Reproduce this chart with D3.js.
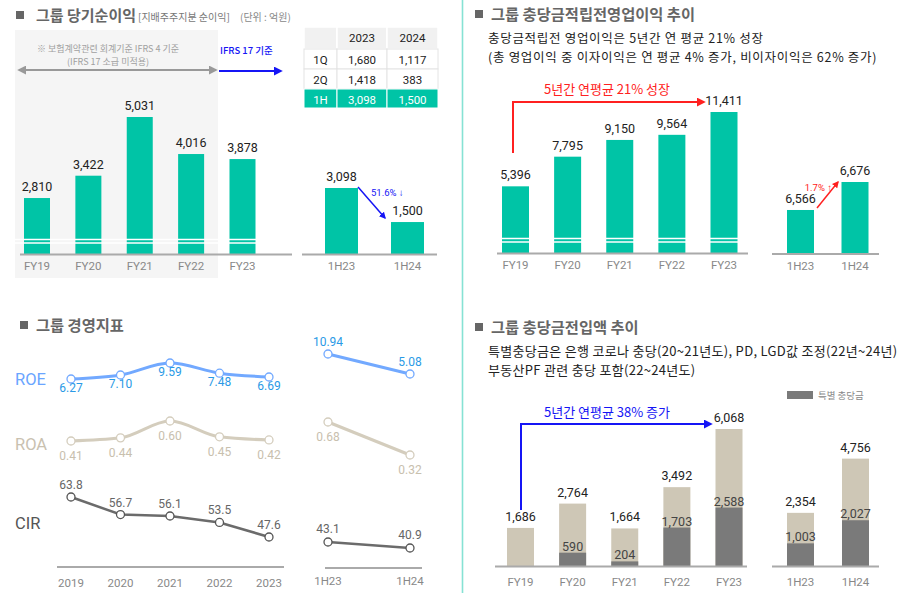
<!DOCTYPE html>
<html>
<head>
<meta charset="utf-8">
<script src="https://cdn.jsdelivr.net/npm/d3@7"></script>
<style>
  body { margin: 0; background: #fff; }
  svg { display: block; }
</style>
</head>
<body>
<svg id="chart" width="900" height="593"></svg>
<script>
'use strict';

// ---- data ----
var fyLabels = ['FY19', 'FY20', 'FY21', 'FY22', 'FY23'];
var halfLabels = ['1H23', '1H24'];
var kpiYears = ['2019', '2020', '2021', '2022', '2023'];

var netIncome = [2810, 3422, 5031, 4016, 3878];
var netIncomeHalf = [3098, 1500];

var tableCols = ['2023', '2024'];
var tableRows = ['1Q', '2Q', '1H'];
var tableValues = [[1680, 1117], [1418, 383], [3098, 1500]];

var preProvision = [5396, 7795, 9150, 9564, 11411];
var preProvisionHalf = [6566, 6676];

var roe = [6.27, 7.10, 9.59, 7.48, 6.69];
var roa = [0.41, 0.44, 0.60, 0.45, 0.42];
var cir = [63.8, 56.7, 56.1, 53.5, 47.6];
var roeHalf = [10.94, 5.08];
var roaHalf = [0.68, 0.32];
var cirHalf = [43.1, 40.9];

var provisionTotal = [1686, 2764, 1664, 3492, 6068];
var provisionSpecial = [0, 590, 204, 1703, 2588];
var provisionTotalHalf = [2354, 4756];
var provisionSpecialHalf = [1003, 2027];

// ---- style ----
var KR = "'Noto Sans CJK KR', 'Noto Sans', sans-serif";
var NUM = "Roboto, 'Noto Sans', sans-serif";
var teal = '#00c4a6';
var beige = '#cec7b6';
var darkGray = '#7a7a7a';
var fmt = d3.format(',');

var svg = d3.select('#chart');

// arrow markers
var defs = svg.append('defs');
function marker(id, color, orient) {
    defs.append('marker')
        .attr('id', id)
        .attr('viewBox', '0 0 10 10')
        .attr('refX', 8).attr('refY', 5)
        .attr('markerWidth', 4.5).attr('markerHeight', 4.5)
        .attr('orient', orient)
        .append('path')
        .attr('d', 'M0,0L10,5L0,10z')
        .attr('fill', color);
}
marker('arrGray', '#999', 'auto-start-reverse');
marker('arrBlue', '#1515f5', 'auto');
marker('arrRed', '#ff2020', 'auto');

function text(x, y, str, opts) {
    opts = opts || {};
    return svg.append('text')
        .attr('x', x).attr('y', y)
        .attr('text-anchor', opts.anchor || 'start')
        .attr('font-family', opts.family || KR)
        .attr('font-size', opts.size || 12)
        .attr('font-weight', opts.weight || 400)
        .attr('fill', opts.color || '#333')
        .text(str);
}

function title(x, y, str, size, gap) {
    svg.append('rect').attr('x', x).attr('y', y - 10).attr('width', 8).attr('height', 8).attr('fill', '#666');
    return text(x + gap, y, str, {size: size, weight: 700, color: '#666'});
}

function xScale(domain, c0, c1) {
    return d3.scalePoint().domain(domain).range([c0, c1]);
}

function baseline(x0, x1, y) {
    svg.append('line')
        .attr('x1', x0).attr('x2', x1).attr('y1', y).attr('y2', y)
        .attr('stroke', '#aaa').attr('stroke-width', 2);
}

function xLabels(x, labels, y) {
    svg.append('g').selectAll('text')
        .data(labels).enter()
        .append('text')
        .attr('x', function (d) { return x(d); })
        .attr('y', y)
        .attr('text-anchor', 'middle')
        .attr('font-family', NUM)
        .attr('font-size', 11.5)
        .attr('fill', '#888')
        .text(function (d) { return d; });
}

// simple bars with value labels
function bars(labels, values, x, y, w, color) {
    var data = labels.map(function (l, i) { return {label: l, value: values[i]}; });
    var g = svg.append('g');
    g.selectAll('rect').data(data).enter()
        .append('rect')
        .attr('x', function (d) { return x(d.label) - w / 2; })
        .attr('y', function (d) { return y(d.value); })
        .attr('width', w)
        .attr('height', function (d) { return y.range()[0] - y(d.value); })
        .attr('fill', color);
    g.selectAll('text').data(data).enter()
        .append('text')
        .attr('x', function (d) { return x(d.label); })
        .attr('y', function (d) { return y(d.value) - 7; })
        .attr('text-anchor', 'middle')
        .attr('font-family', NUM)
        .attr('font-size', 12.5)
        .attr('fill', '#222')
        .text(function (d) { return fmt(d.value); });
}

function breakLines(x0, x1, ys) {
    ys.forEach(function (yy) {
        svg.append('line')
            .attr('x1', x0).attr('x2', x1).attr('y1', yy).attr('y2', yy)
            .attr('stroke', '#fff').attr('stroke-width', 1.6);
    });
}

// ================= top-left : net income =================
svg.append('rect').attr('x', 15).attr('y', 30).attr('width', 203).attr('height', 248).attr('fill', '#f5f5f5');

title(16, 21, '그룹 당기순이익', 15, 20);
text(138, 21, '[지배주주지분 순이익]', {size: 10, color: '#777'});
text(240, 21, '(단위 : 억원)', {size: 10, color: '#888'});

text(108, 52, '※ 보험계약관련 회계기준 IFRS 4 기준', {anchor: 'middle', size: 9, color: '#a0a0a0'});
text(108, 65, '(IFRS 17 소급 미적용)', {anchor: 'middle', size: 9, color: '#a0a0a0'});
text(220, 54, 'IFRS 17 기준', {size: 9.5, color: '#1515f5', weight: 500});

svg.append('line').attr('x1', 19).attr('x2', 216).attr('y1', 70).attr('y2', 70)
    .attr('stroke', '#999').attr('stroke-width', 2)
    .attr('marker-start', 'url(#arrGray)').attr('marker-end', 'url(#arrGray)');
svg.append('line').attr('x1', 219).attr('x2', 281).attr('y1', 71).attr('y2', 71)
    .attr('stroke', '#1515f5').attr('stroke-width', 2)
    .attr('marker-end', 'url(#arrBlue)');

var xNet = xScale(fyLabels, 37, 242.5);
// axis is broken near the bottom, so the floor value is not zero
var yNet = d3.scaleLinear().domain([1276, 5031]).range([254, 117]);
bars(fyLabels, netIncome, xNet, yNet, 26, teal);
breakLines(15, 292, [239.5, 243]);
baseline(20, 292, 254.5);
xLabels(xNet, fyLabels, 270);

var xNetH = xScale(halfLabels, 341.5, 407.5);
var yNetH = d3.scaleLinear().domain([0, 3098]).range([254, 188]);
bars(halfLabels, netIncomeHalf, xNetH, yNetH, 33, teal);
baseline(302, 437, 254.5);
xLabels(xNetH, halfLabels, 270);

svg.append('line').attr('x1', 358).attr('y1', 187).attr('x2', 385).attr('y2', 218)
    .attr('stroke', '#1515f5').attr('stroke-width', 1.5).attr('marker-end', 'url(#arrBlue)');
text(371, 196, '51.6% ↓', {size: 9.5, color: '#1515f5', family: NUM});

// table
var colW = [33, 50, 51];
var colX = [304, 337, 387];
var rowY = [27, 49, 69, 89];
var rowH = [22, 20, 20, 19];
var tg = svg.append('g');
// header
[''].concat(tableCols).forEach(function (c, j) {
    tg.append('rect').attr('x', colX[j]).attr('y', rowY[0]).attr('width', colW[j]).attr('height', rowH[0])
        .attr('fill', '#f1f1f1').attr('stroke', '#fff').attr('stroke-width', 1.5);
    tg.append('text').attr('x', colX[j] + colW[j] / 2).attr('y', rowY[0] + 15)
        .attr('text-anchor', 'middle').attr('font-family', NUM).attr('font-size', 11.5).attr('fill', '#222').text(c);
});
tableRows.forEach(function (r, i) {
    var last = i === tableRows.length - 1;
    var cells = [r].concat(tableValues[i].map(fmt));
    cells.forEach(function (c, j) {
        tg.append('rect').attr('x', colX[j]).attr('y', rowY[i + 1]).attr('width', colW[j]).attr('height', rowH[i + 1])
            .attr('fill', last ? teal : '#fff')
            .attr('stroke', last ? '#fff' : '#e4e4e4').attr('stroke-width', 1);
        tg.append('text').attr('x', colX[j] + colW[j] / 2).attr('y', rowY[i + 1] + 14.5)
            .attr('text-anchor', 'middle').attr('font-family', NUM).attr('font-size', 11.5)
            .attr('fill', last ? '#fff' : '#222').text(c);
    });
});

// divider
svg.append('line').attr('x1', 462.5).attr('x2', 462.5).attr('y1', 0).attr('y2', 593)
    .attr('stroke', '#86e2d4').attr('stroke-width', 1.6);

// ================= top-right : pre-provision income =================
title(475, 20, '그룹 충당금적립전영업이익 추이', 15.3, 16);
text(488, 43, '충당금적립전 영업이익은 5년간 연 평균 21% 성장', {size: 12.5, color: '#222'})
    .attr('letter-spacing', 0.7);
text(488, 61.5, '(총 영업이익 중 이자이익은 연 평균 4% 증가, 비이자이익은 62% 증가)', {size: 12.5, color: '#222'})
    .attr('letter-spacing', 0.7);

text(607, 94, '5년간 연평균 21% 성장', {anchor: 'middle', size: 13, color: '#ff2020'});
svg.append('path').attr('d', 'M513,153V102H704').attr('fill', 'none')
    .attr('stroke', '#ff2020').attr('stroke-width', 2).attr('marker-end', 'url(#arrRed)');

var xPre = xScale(fyLabels, 515.5, 724);
var yPre = d3.scaleLinear().domain([0, 11411]).range([253, 112]);
bars(fyLabels, preProvision, xPre, yPre, 27, teal);
breakLines(497, 748, [238.5, 242]);
baseline(497, 748, 253.5);
xLabels(xPre, fyLabels, 269);

var xPreH = xScale(halfLabels, 800.5, 855);
var yPreH = d3.scaleLinear().domain([6393, 6676]).range([254, 182]);
bars(halfLabels, preProvisionHalf, xPreH, yPreH, 27, teal);
baseline(772, 879, 254);
xLabels(xPreH, halfLabels, 270);

svg.append('line').attr('x1', 817).attr('y1', 208).attr('x2', 838).attr('y2', 182)
    .attr('stroke', '#ff2020').attr('stroke-width', 1.5).attr('marker-end', 'url(#arrRed)');
text(832, 191, '1.7% ↑', {anchor: 'end', size: 9.5, color: '#ff2020', family: NUM});

// ================= bottom-left : KPIs =================
title(20, 331, '그룹 경영지표', 15.3, 16);

var xKpi = xScale(kpiYears, 71, 269);
var xKpiH = xScale(halfLabels, 328, 410);

var metrics = [
    {name: 'ROE', vals: roe, half: roeHalf, line: '#72a9ff', lab: '#2a9ae6', nameColor: '#6aa5ff', nameY: 385,
        y: d3.scaleLinear().domain([6.27, 9.59]).range([379, 363]),
        yH: d3.scaleLinear().domain([5.08, 10.94]).range([374, 354]),
        dy: 13, dyH: -8, curve: d3.curveMonotoneX, width: 3},
    {name: 'ROA', vals: roa, half: roaHalf, line: '#d4cdbd', lab: '#c8c0ae', nameColor: '#c9c1b0', nameY: 450,
        y: d3.scaleLinear().domain([0.41, 0.60]).range([441, 421]),
        yH: d3.scaleLinear().domain([0.32, 0.68]).range([455, 422]),
        dy: 19, dyH: 19, curve: d3.curveMonotoneX, width: 3},
    {name: 'CIR', vals: cir, half: cirHalf, line: '#6b6b6b', lab: '#666', nameColor: '#555', nameY: 529,
        y: d3.scaleLinear().domain([47.6, 63.8]).range([537, 497]),
        yH: d3.scaleLinear().domain([40.9, 43.1]).range([548, 542]),
        dy: -8, dyH: -9, curve: d3.curveLinear, width: 2.5}
];

metrics.forEach(function (m) {
    text(15, m.nameY, m.name, {size: 16.5, color: m.nameColor, family: NUM});

    [[kpiYears, m.vals, xKpi, m.y, m.dy, m.curve], [halfLabels, m.half, xKpiH, m.yH, m.dyH, d3.curveLinear]].forEach(function (p) {
        var data = p[0].map(function (k, i) { return {k: k, v: p[1][i]}; });
        var x = p[2], y = p[3];
        var line = d3.line().x(function (d) { return x(d.k); }).y(function (d) { return y(d.v); }).curve(p[5]);
        var g = svg.append('g');
        g.append('path').datum(data).attr('d', line)
            .attr('fill', 'none').attr('stroke', m.line).attr('stroke-width', m.width);
        g.selectAll('circle').data(data).enter().append('circle')
            .attr('cx', function (d) { return x(d.k); })
            .attr('cy', function (d) { return y(d.v); })
            .attr('r', 4).attr('fill', '#fff').attr('stroke', m.name === 'CIR' ? '#555' : m.line).attr('stroke-width', 1.3);
        g.selectAll('text').data(data).enter().append('text')
            .attr('x', function (d) { return x(d.k); })
            .attr('y', function (d) { return y(d.v) + p[4]; })
            .attr('text-anchor', 'middle').attr('font-family', NUM).attr('font-size', 12)
            .attr('fill', m.lab)
            .text(function (d) { return m.name === 'CIR' ? d.v.toFixed(1) : d.v.toFixed(2); });
    });
});

baseline(57, 284, 567);
xLabels(xKpi, kpiYears, 587);
baseline(325, 422, 568);
xLabels(xKpiH, halfLabels, 585);

// ================= bottom-right : provisions =================
title(475, 333, '그룹 충당금전입액 추이', 15.3, 16);
text(488, 356, '특별충당금은 은행 코로나 충당(20~21년도), PD, LGD값 조정(22년~24년)', {size: 13, color: '#222'})
    .attr('letter-spacing', 0.3);
text(488, 375, '부동산PF 관련 충당 포함(22~24년도)', {size: 13, color: '#222'})
    .attr('letter-spacing', 0.3);

svg.append('rect').attr('x', 787).attr('y', 391).attr('width', 26).attr('height', 8).attr('fill', darkGray);
text(818, 399, '특별 충당금', {size: 9.5, color: '#888'});

text(607, 417, '5년간 연평균 38% 증가', {anchor: 'middle', size: 13, color: '#1515f5'});
svg.append('path').attr('d', 'M521,510V424H711').attr('fill', 'none')
    .attr('stroke', '#1515f5').attr('stroke-width', 2).attr('marker-end', 'url(#arrBlue)');

function stacked(labels, totals, specials, x, y, w) {
    bars(labels, totals, x, y, w, beige);
    var data = labels.map(function (l, i) { return {label: l, value: specials[i]}; })
        .filter(function (d) { return d.value > 0; });
    var g = svg.append('g');
    g.selectAll('rect').data(data).enter().append('rect')
        .attr('x', function (d) { return x(d.label) - w / 2; })
        .attr('y', function (d) { return y(d.value); })
        .attr('width', w)
        .attr('height', function (d) { return y.range()[0] - y(d.value); })
        .attr('fill', darkGray);
    g.selectAll('text').data(data).enter().append('text')
        .attr('x', function (d) { return x(d.label); })
        .attr('y', function (d) { return y(d.value) - 2; })
        .attr('text-anchor', 'middle').attr('font-family', NUM).attr('font-size', 12.5)
        .attr('fill', '#444')
        .text(function (d) { return fmt(d.value); });
}

var yProv = d3.scaleLinear().domain([0, 6068]).range([566, 429]);
var xProv = xScale(fyLabels, 520.5, 729);
stacked(fyLabels, provisionTotal, provisionSpecial, xProv, yProv, 27);
baseline(495, 747, 566.5);
xLabels(xProv, fyLabels, 586);

var xProvH = xScale(halfLabels, 800.5, 855.5);
stacked(halfLabels, provisionTotalHalf, provisionSpecialHalf, xProvH, yProv, 27);
baseline(772, 879, 566.5);
xLabels(xProvH, halfLabels, 586);
</script>
</body>
</html>
